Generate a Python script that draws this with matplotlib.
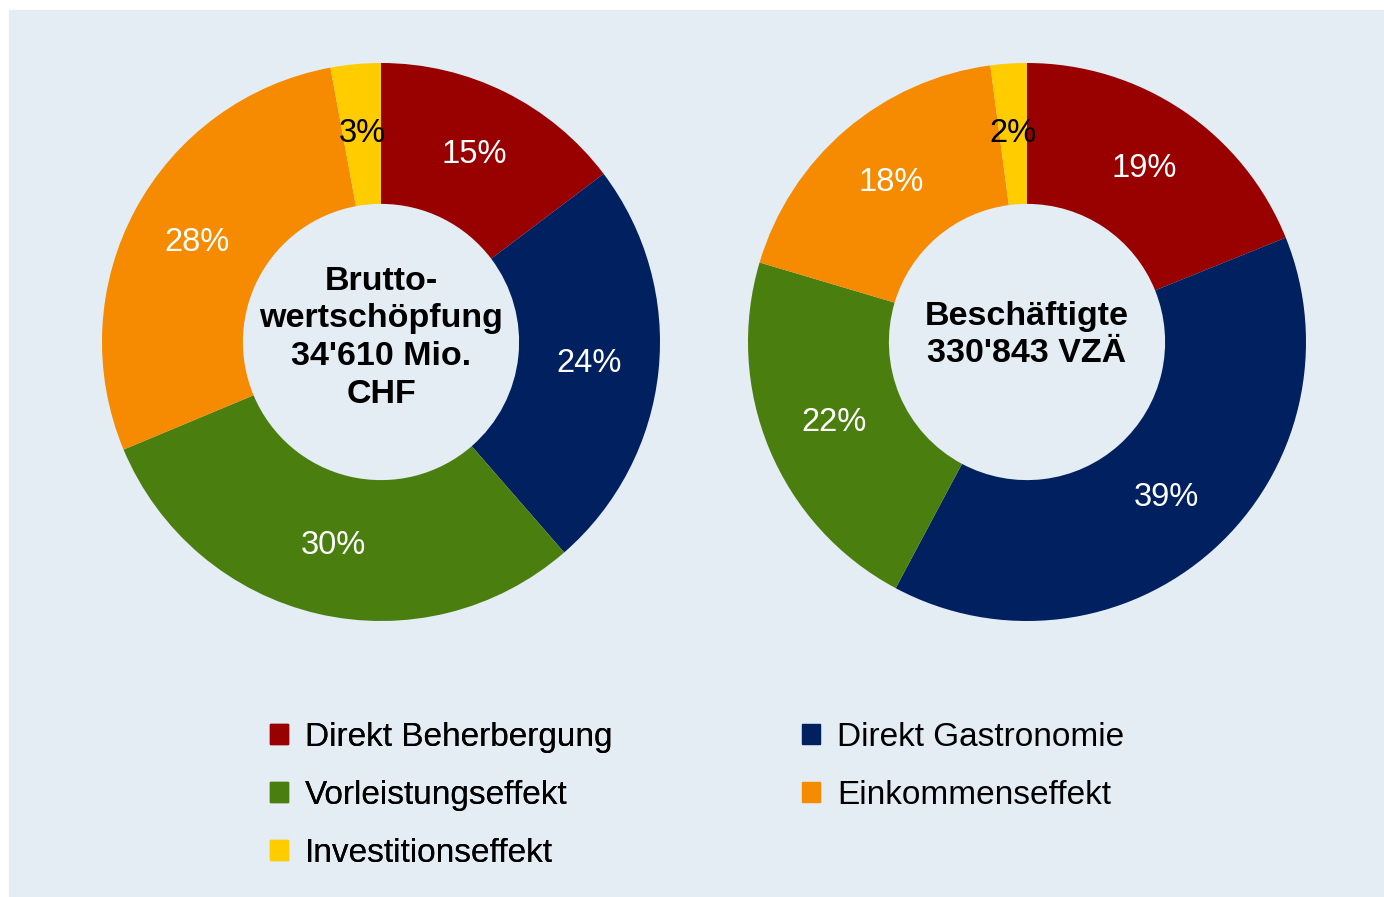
import matplotlib.pyplot as plt
import matplotlib.patches as mpatches

plt.rcParams['font.family'] = ['Liberation Sans', 'DejaVu Sans']

# Data
categories = ['Direkt Beherbergung', 'Direkt Gastronomie', 'Vorleistungseffekt',
              'Einkommenseffekt', 'Investitionseffekt']
colors = ['#990000', '#002060', '#4A7F0F', '#F68A00', '#FFCC00']
wertschoepfung = [14.7, 23.9, 30.1, 28.4, 2.9]
beschaeftigte = [18.9, 38.9, 21.8, 18.3, 2.1]
center_left = "Brutto-\nwertschöpfung\n34'610 Mio.\nCHF"
center_right = "Beschäftigte\n330'843 VZÄ"

W, H = 1384, 897
fig = plt.figure(figsize=(W / 100, H / 100), dpi=100, facecolor='white')

# light blue panel
fig.patches.append(mpatches.Rectangle((9 / W, 0), 1 - 9 / W, 1 - 10 / H,
                                      transform=fig.transFigure, color='#E4ECF4', zorder=-10))


def donut(left_px, values, center_text, text_dy):
    ax = fig.add_axes([left_px / W, (H - 621) / H, 558 / W, 558 / H])
    ax.set_facecolor('none')
    wedges, texts, autotexts = ax.pie(
        values, colors=colors, startangle=90, counterclock=False,
        autopct='%.0f%%', pctdistance=0.75, radius=1,
        wedgeprops=dict(width=0.505, linewidth=0),
        textprops=dict(fontsize=23.5, color='white'))
    autotexts[-1].set_color('black')
    ax.text(0, text_dy, center_text, ha='center', va='center',
            fontsize=24.5, fontweight='bold', linespacing=1.28)
    ax.set_xlim(-1, 1)
    ax.set_ylim(-1, 1)
    ax.set_aspect('equal')
    ax.axis('off')


donut(102, wertschoepfung, center_left, 0.015)
donut(748, beschaeftigte, center_right, 0.025)

# Legend in two columns
handles = [mpatches.Patch(color=c, label=l) for c, l in zip(colors, categories)]
leg_kw = dict(frameon=False, fontsize=24, handlelength=0.55, handleheight=0.55,
              handletextpad=0.5, labelspacing=0.81, borderpad=0, borderaxespad=0,
              loc='upper left')
leg1 = fig.legend(handles=[handles[0], handles[2], handles[4]],
                  bbox_to_anchor=(270 / W, (H - 722) / H), **leg_kw)
fig.add_artist(leg1)
fig.legend(handles=[handles[1], handles[3]],
           bbox_to_anchor=(802 / W, (H - 722) / H), **leg_kw)

fig.savefig('out.png', dpi=100, facecolor='white')
